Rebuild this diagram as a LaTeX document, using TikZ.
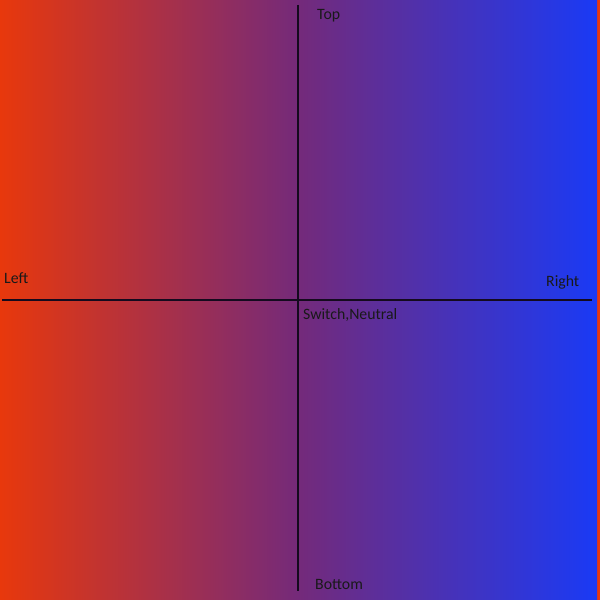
\documentclass[tikz,border=0pt]{standalone}
\usepackage{fontspec}
\setmainfont{Carlito}
\definecolor{cleft}{RGB}{232,56,12}
\definecolor{cmid}{RGB}{116,42,122}
\definecolor{cright}{RGB}{26,58,245}
\definecolor{axis}{RGB}{20,10,30}
\pgfdeclarehorizontalshading{bggrad}{100bp}{color(0bp)=(cleft); color(25bp)=(cleft); color(50bp)=(cmid); color(75bp)=(cright); color(100bp)=(cright)}
\tikzset{
  lbl/.style={anchor=base west, inner sep=0pt, font=\fontsize{15.8}{18}\selectfont, text=black!90},
  axisline/.style={draw=axis, line width=2pt}
}
\begin{document}
\begin{tikzpicture}[x=1pt,y=1pt]
\useasboundingbox (0,0) rectangle (600,600);
\fill[cleft] (0,0) rectangle (600,600);
\shade[shading=bggrad] (0,0) rectangle (597,600);
\coordinate (vt) at (297.5,595);
\coordinate (vb) at (297.5,9);
\coordinate (hl) at (2,300);
\coordinate (hr) at (592,300);
\draw[axisline] (vt) -- (vb);
\draw[axisline] (hl) -- (hr);
\node[lbl] (top) at (317,580) {Top};
\node[lbl] (left) at (4,316) {Left};
\node[lbl] (right) at (546,313) {Right};
\node[lbl] (sw) at (303,280) {Switch,Neutral};
\node[lbl] (bottom) at (315,10) {Bottom};
\end{tikzpicture}
\end{document}
